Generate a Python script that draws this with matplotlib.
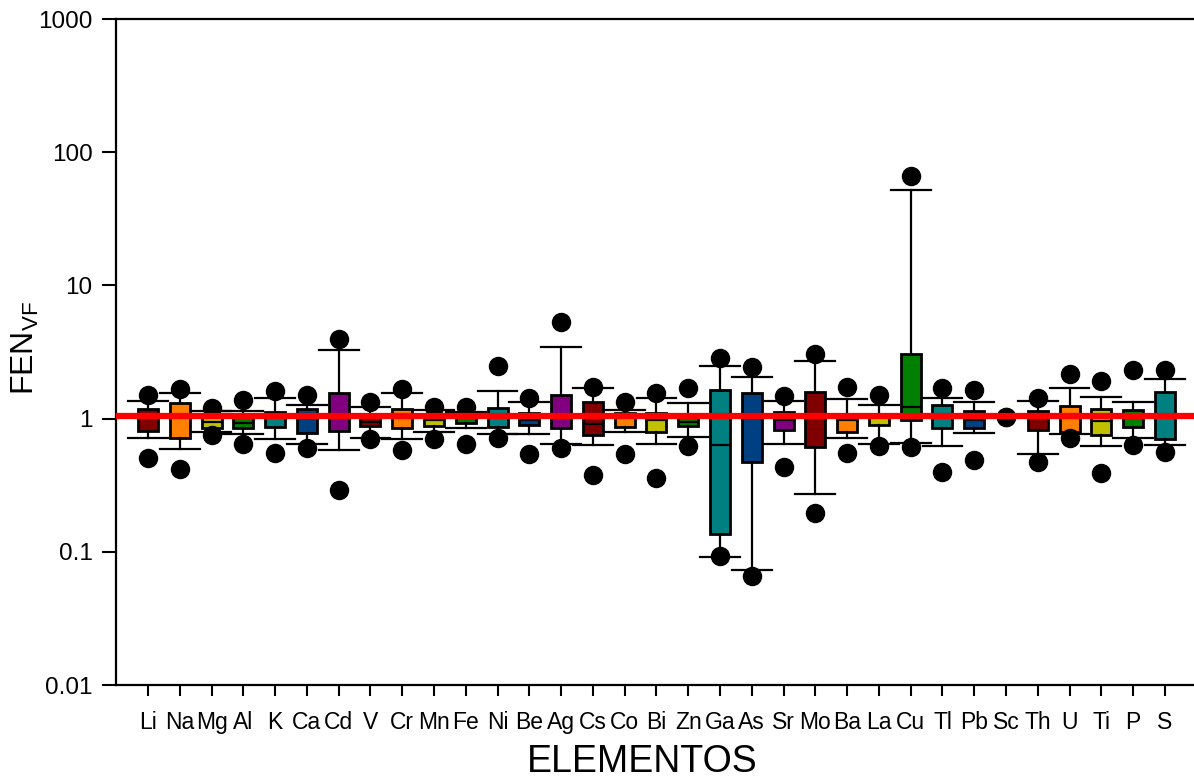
import matplotlib
matplotlib.use('Agg')
import matplotlib.pyplot as plt

plt.rcParams['font.family'] = ['Liberation Sans', 'DejaVu Sans']
plt.rcParams['mathtext.fontset'] = 'custom'
plt.rcParams['mathtext.rm'] = 'Liberation Sans'

elements = ['Li', 'Na', 'Mg', 'Al', 'K', 'Ca', 'Cd', 'V', 'Cr', 'Mn', 'Fe',
            'Ni', 'Be', 'Ag', 'Cs', 'Co', 'Bi', 'Zn', 'Ga', 'As', 'Sr', 'Mo',
            'Ba', 'La', 'Cu', 'Tl', 'Pb', 'Sc', 'Th', 'U', 'Ti', 'P', 'S']

# percentiles (10, 25, 50, 75, 90) and 5th/95th dots
p05 = [0.51, 0.42, 0.75, 0.64, 0.55, 0.60, 0.29, 0.70, 0.58, 0.70, 0.64,
       0.71, 0.54, 0.60, 0.38, 0.54, 0.36, 0.62, 0.093, 0.066, 0.43, 0.195,
       0.55, 0.62, 0.61, 0.40, 0.49, 1.02, 0.47, 0.72, 0.39, 0.63, 0.56]
p10 = [0.72, 0.59, 0.80, 0.77, 0.70, 0.65, 0.58, 0.72, 0.70, 0.80, 0.85,
       0.77, 0.76, 0.65, 0.63, 0.80, 0.65, 0.73, 0.092, 0.073, 0.65, 0.27,
       0.71, 0.65, 0.66, 0.62, 0.78, 1.02, 0.54, 0.76, 0.62, 0.72, 0.63]
p25 = [0.81, 0.72, 0.85, 0.85, 0.86, 0.78, 0.81, 0.88, 0.85, 0.88, 0.93,
       0.86, 0.89, 0.85, 0.75, 0.87, 0.80, 0.88, 0.137, 0.47, 0.82, 0.61,
       0.80, 0.89, 0.97, 0.85, 0.85, 1.02, 0.82, 0.80, 0.75, 0.87, 0.70]
p50 = [1.02, 1.02, 0.95, 0.93, 1.02, 1.02, 1.03, 0.95, 1.02, 0.97, 1.02,
       1.02, 0.97, 1.02, 0.91, 1.02, 0.97, 0.95, 0.63, 1.02, 0.97, 1.02,
       0.97, 1.02, 1.23, 1.02, 0.97, 1.02, 1.02, 1.02, 0.955, 1.02, 1.02]
p75 = [1.19, 1.30, 1.08, 1.03, 1.13, 1.18, 1.55, 1.08, 1.18, 1.05, 1.05,
       1.20, 1.10, 1.51, 1.33, 1.10, 1.10, 1.05, 1.65, 1.56, 1.13, 1.59,
       1.05, 1.05, 3.05, 1.27, 1.15, 1.02, 1.15, 1.25, 1.19, 1.17, 1.59]
p90 = [1.36, 1.57, 1.15, 1.15, 1.43, 1.27, 3.27, 1.23, 1.55, 1.16, 1.13,
       1.60, 1.33, 3.42, 1.69, 1.16, 1.43, 1.31, 2.49, 2.06, 1.35, 2.72,
       1.40, 1.27, 52.0, 1.43, 1.34, 1.02, 1.35, 1.69, 1.46, 1.33, 1.99]
p95 = [1.51, 1.67, 1.20, 1.38, 1.60, 1.51, 3.96, 1.33, 1.67, 1.23, 1.23,
       2.47, 1.43, 5.27, 1.74, 1.33, 1.57, 1.69, 2.83, 2.42, 1.49, 3.05,
       1.72, 1.51, 66.5, 1.69, 1.65, 1.02, 1.43, 2.16, 1.93, 2.33, 2.32]

reference_level = 1.05
palette = ['#800000', '#FF8000', '#C0C000', '#008000', '#008080', '#003F80', '#800080']

stats = []
for i, name in enumerate(elements):
    stats.append({'label': name, 'whislo': p10[i], 'q1': p25[i], 'med': p50[i],
                  'q3': p75[i], 'whishi': p90[i], 'fliers': [p05[i], p95[i]]})

fig = plt.figure(figsize=(11.94, 7.78), dpi=100)
ax = fig.add_axes([116.2 / 1194, 1 - 685 / 778, 1080.5 / 1194, 666 / 778])

positions = list(range(1, len(elements) + 1))
bp = ax.bxp(stats, positions=positions, widths=0.63, capwidths=1.25,
            patch_artist=True,
            boxprops=dict(linewidth=2.0, edgecolor='black'),
            medianprops=dict(color='black', linewidth=1.6),
            whiskerprops=dict(color='black', linewidth=1.6),
            capprops=dict(color='black', linewidth=1.6),
            flierprops=dict(marker='o', markerfacecolor='black',
                            markeredgecolor='black', markersize=13))
for i, box in enumerate(bp['boxes']):
    box.set_facecolor(palette[i % len(palette)])

ax.axhline(reference_level, color='#FF0000', linewidth=4.5, zorder=10)

ax.set_yscale('log')
ax.set_ylim(0.01, 1000)
ax.set_xlim(0, 34)
ax.set_yticks([0.01, 0.1, 1, 10, 100, 1000])
ax.set_yticklabels(['0.01', '0.1', '1', '10', '100', '1000'])
ax.minorticks_off()
ax.set_xticks(positions)
ax.set_xticklabels(elements)
ax.tick_params(axis='y', direction='out', length=10, width=1.5, labelsize=17.5, pad=7)
ax.tick_params(axis='x', direction='out', length=8, width=1.5, labelsize=16.5, pad=11)
for side in ['left', 'bottom', 'top']:
    ax.spines[side].set_linewidth(1.6)
ax.spines['right'].set_visible(False)

ax.set_xlabel('ELEMENTOS', fontsize=27)
ax.xaxis.set_label_coords((642 - 116.2) / 1080.5, -0.088)
fig.text(25 / 1194, 1 - 348 / 778, r'FEN$_{\mathregular{VF}}$', fontsize=23,
         rotation=90, ha='center', va='center')

plt.savefig('out.png', dpi=100)
